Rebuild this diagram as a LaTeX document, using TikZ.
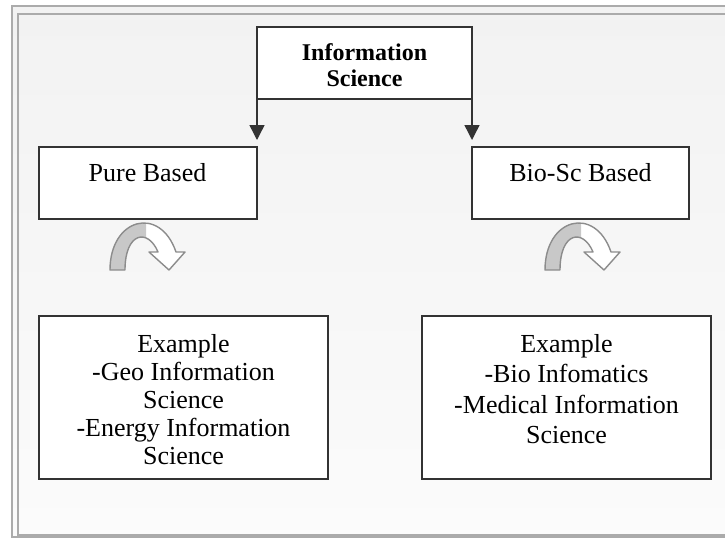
\documentclass[tikz,border=0pt]{standalone}
\usepackage{fontspec}
\setmainfont{Liberation Serif}
\usetikzlibrary{arrows.meta}
\definecolor{framegray}{HTML}{ABABAB}
\definecolor{boxline}{HTML}{333333}
\definecolor{curvegray}{HTML}{8C8C8C}
\definecolor{curvefill}{HTML}{C8C8C8}
\definecolor{bgA}{HTML}{F2F2F2}
\definecolor{bgB}{HTML}{FBFBFB}
\newcommand\bendshapepath{(0,0) .. controls (0,-52) and (50,-65) .. (66,-18) -- (75,-18) -- (59,0) -- (39,-18) -- (48,-18) .. controls (38,-42) and (15,-38) .. (15,0) -- cycle}
\begin{document}
\begin{tikzpicture}[x=1pt,y=-1pt,
  box/.style={draw=boxline,line width=1.6pt,fill=white,inner sep=0pt,outer sep=0pt,anchor=north west},
  lbl/.style={inner sep=0pt,font=\fontsize{26}{28}\selectfont},
  conn/.style={draw=boxline,line width=1.4pt,-{Triangle[width=15pt,length=15pt]},shorten >=7pt},
  bendline/.style={draw=curvegray,line width=1.4pt,line join=round},
  bendarr/.pic={
    \fill[white] \bendshapepath;
    \begin{scope}
      \clip (-5,5) rectangle (36,-80);
      \fill[curvefill] \bendshapepath;
    \end{scope}
    \path[bendline] \bendshapepath;
  }]
\useasboundingbox (0,0) rectangle (725,539);
\fill[white] (0,0) rectangle (725,539);
\shade[top color=bgA,bottom color=bgB] (11.5,6) rectangle (725,537);
\draw[framegray,line width=2pt] (730,6) -- (11.5,6) -- (11.5,537) -- (730,537);
\draw[framegray,line width=2pt] (730,13.5) -- (17.5,13.5) -- (17.5,535) -- (730,535);
% boxes
\node[box,minimum width=215pt,minimum height=72pt] (info) at (257,27) {};
\node[box,minimum width=218pt,minimum height=72pt] (pure) at (39,147) {};
\node[box,minimum width=217pt,minimum height=72pt] (bio) at (472,147) {};
\node[box,minimum width=289pt,minimum height=163pt] (expure) at (39,316) {};
\node[box,minimum width=289pt,minimum height=163pt] (exbio) at (422,316) {};
% texts
\node[inner sep=0pt,align=center,anchor=north,font=\fontsize{24}{26}\selectfont\bfseries] (tinfo) at (364.5,43.6) {Information\\Science};
\node[lbl,anchor=base] (tpure) at (147.5,181.5) {Pure Based};
\node[lbl,anchor=base] (tbio) at (580.5,181.5) {Bio-Sc Based};
\node[inner sep=0pt,align=center,anchor=north,font=\fontsize{26}{28}\selectfont] (texpure) at (183.5,334) {Example\\-Geo Information\\Science\\-Energy Information\\Science};
\node[inner sep=0pt,align=center,anchor=north,font=\fontsize{26}{30.5}\selectfont] (texbio) at (566.5,334) {Example\\-Bio Infomatics\\-Medical Information\\Science};
% connectors
\draw[conn] (info.south west) -- (pure.north east);
\draw[conn] (info.south east) -- (bio.north west);
% curved arrows
\pic at (110,270) {bendarr};
\pic at (545,270) {bendarr};
\end{tikzpicture}
\end{document}
